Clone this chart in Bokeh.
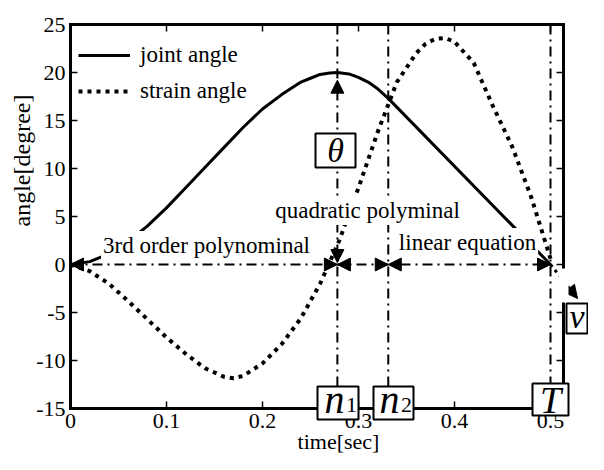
from bokeh.plotting import figure
from bokeh.models import (FixedTicker, Label, Arrow, NormalHead, BoxAnnotation,
                          Legend, LegendItem, Range1d, LinearAxis)
from bokeh.embed import file_html
from bokeh.resources import INLINE
import math

# ---------------- data ----------------
t_joint = [0, 0.02, 0.04, 0.06, 0.08, 0.10, 0.12, 0.14, 0.16, 0.18, 0.20,
           0.22, 0.24, 0.25, 0.26, 0.27, 0.278, 0.29, 0.30, 0.31, 0.32, 0.331, 0.50]
joint_angle = [0, 0.3, 1.1, 2.4, 4.0, 5.9, 8.0, 10.1, 12.2, 14.3, 16.2,
               17.7, 19.0, 19.4, 19.8, 19.95, 20.0, 19.85, 19.5, 19.0, 18.3, 17.3, 0]

t_strain = [0, 0.02, 0.04, 0.06, 0.08, 0.10, 0.12, 0.14, 0.16, 0.17, 0.18, 0.20,
            0.22, 0.24, 0.26, 0.28, 0.30, 0.32, 0.34, 0.36, 0.37, 0.38, 0.39,
            0.40, 0.42, 0.44, 0.46, 0.48, 0.50]
strain_angle = [0, -0.7, -2.0, -3.8, -5.7, -7.6, -9.3, -10.8, -11.7, -11.85,
                -11.6, -10.3, -8.3, -5.6, -2.0, 2.5, 8.0, 13.8, 19.0, 22.0,
                23.0, 23.5, 23.6, 23.2, 21.0, 16.5, 12.3, 7.0, 0.6]

x_ticks = [0, 0.1, 0.2, 0.3, 0.4, 0.5]
x_tick_labels = ["0", "0.1", "0.2", "0.3", "0.4", "0.5"]
y_ticks = [-15, -10, -5, 0, 5, 10, 15, 20, 25]
y_tick_labels = ["-15", "-10", "-5", "0", "5", "10", "15", "20", "25"]

n1, n2, T_end = 0.278, 0.331, 0.5
theta = 20
X0, X1, Y0, Y1 = 0, 0.5135, -15, 25      # axes box

# ---------------- layout: frame fills the canvas ----------------
W, H = 588, 454
PX_LEFT, PX_PER_X = 70, 960.0            # pixel of x=0, pixels per unit x
PY_TOP, PY_PER_Y = 24, 9.6               # pixel of y=25, pixels per unit y


def dx(px):
    return (px - PX_LEFT) / PX_PER_X


def dy(py):
    return Y1 - (py - PY_TOP) / PY_PER_Y


FONT = "Liberation Serif"

p = figure(width=W, height=H, x_range=Range1d(dx(0), dx(W)),
           y_range=Range1d(dy(H), dy(0)),
           output_backend="svg", toolbar_location=None,
           x_axis_location=None, y_axis_location=None,
           min_border=0, min_border_left=0, min_border_right=0,
           min_border_top=0, min_border_bottom=0)
p.outline_line_color = None
p.background_fill_color = "white"
p.border_fill_color = "white"
p.grid.visible = False
for g in p.grid:
    g.grid_line_color = None


def make_axis(loc, fixed, bounds, ticks, labels, show):
    ax = LinearAxis(fixed_location=fixed, bounds=bounds)
    ax.ticker = FixedTicker(ticks=ticks)
    ax.axis_line_width = 3
    ax.axis_line_color = "black"
    ax.axis_line_cap = "square"
    ax.major_tick_in = 7
    ax.major_tick_out = 0
    ax.major_tick_line_width = 1.5
    ax.major_tick_line_color = "black"
    ax.minor_tick_line_color = None
    ax.major_label_text_font = FONT
    ax.major_label_text_color = "black"
    if show:
        ax.major_label_text_font_size = "22px"
        ax.major_label_standoff = 5
        ax.major_label_overrides = {k: s for k, s in zip(ticks, labels)}
    else:
        ax.major_label_text_font_size = "0px"
        ax.major_label_text_alpha = 0
        ax.major_label_standoff = 0
    p.add_layout(ax, loc)


# ---------------- reference lines ----------------
DASHDOT = "10 5 2 5"
p.segment(x0=[n1, n2, T_end], y0=Y0, x1=[n1, n2, T_end], y1=Y1,
          line_color="black", line_width=2, line_dash=DASHDOT)
p.line([0, T_end], [0, 0], line_color="black", line_width=2, line_dash=DASHDOT)

# ---------------- curves ----------------
r_joint = p.line(t_joint, joint_angle, line_color="black", line_width=3,
                 line_join="round")
r_strain = p.line(t_strain, strain_angle, line_color="black", line_width=4,
                  line_dash="4 5")

make_axis("below", Y0, (X0, X1), x_ticks, x_tick_labels, True)
make_axis("above", Y1, (X0, X1), x_ticks, x_tick_labels, False)
make_axis("left", X0, (Y0, Y1), y_ticks, y_tick_labels, True)
make_axis("right", X1, (Y0, Y1), y_ticks, y_tick_labels, False)

legend = Legend(items=[LegendItem(label="joint angle", renderers=[r_joint]),
                       LegendItem(label="strain angle", renderers=[r_strain])],
                location=(78, 347), margin=0, padding=0, spacing=4,
                glyph_height=32, label_height=32, glyph_width=52,
                label_standoff=10, label_text_font=FONT,
                label_text_font_size="23px", label_text_color="black",
                border_line_color=None, background_fill_alpha=0)
p.add_layout(legend)


# ---------------- text annotations (white background) ----------------
def text_label(x, y, txt):
    p.add_layout(Label(x=x, y=y, text=txt, text_font=FONT, text_font_size="23px",
                       text_color="black", text_align="center",
                       text_baseline="middle", background_fill_color="white",
                       background_fill_alpha=1, padding=2))


text_label(dx(206), dy(245), "3rd order polynominal")
text_label(dx(367), dy(210), "quadratic polyminal")
text_label(dx(467), dy(242), "linear equation")


# ---------------- arrows ----------------
def head():
    return NormalHead(size=13, fill_color="black", line_color="black", line_width=1)


for xs, xe in [(0, n1), (n1, n2), (n2, T_end)]:
    p.add_layout(Arrow(start=head(), end=head(), x_start=xs, y_start=0,
                       x_end=xe, y_end=0, line_color=None))
p.add_layout(Arrow(start=head(), end=head(), x_start=n1, y_start=0.2,
                   x_end=n1, y_end=theta - 0.8, line_color=None))
p.add_layout(Arrow(end=head(), x_start=T_end, y_start=0, x_end=dx(577),
                   y_end=dy(298), line_color="black", line_width=3, line_dash="3 4"))

# gap in the right border
p.add_layout(BoxAnnotation(left=dx(558), right=dx(568), top=dy(268), bottom=dy(302),
                           fill_color="white", fill_alpha=1, line_color=None))


# ---------------- boxed symbols ----------------
def box(l, r, t, b):
    p.add_layout(BoxAnnotation(left=dx(l), right=dx(r), top=dy(t), bottom=dy(b),
                               fill_color="white", fill_alpha=1,
                               line_color="black", line_alpha=1, line_width=2))


def sym(px, py, txt, size, italic=True):
    p.add_layout(Label(x=dx(px), y=dy(py), text=txt, text_font=FONT,
                       text_font_size=size,
                       text_font_style="italic" if italic else "normal",
                       text_color="black", text_align="center",
                       text_baseline="middle"))


box(317, 358, 386, 419)
sym(334, 399, "n", "40px")
sym(351, 404.5, "1", "22px", italic=False)

box(373, 413, 386, 419)
sym(389, 399, "n", "40px")
sym(406, 404.5, "2", "22px", italic=False)

box(532, 568, 383, 415)
sym(550, 399.4, "T", "38px")

box(315, 355, 133, 167)
sym(335, 150, "θ", "34px")

box(566, 587, 303, 333)
sym(576.5, 316.4, "v", "34px")

# ---------------- axis titles ----------------
p.add_layout(Label(x=dx(21.5), y=dy(160), text="angle[degree]", angle=math.pi / 2,
                   text_font=FONT, text_font_size="24px", text_color="black",
                   text_align="center", text_baseline="middle"))
p.add_layout(Label(x=dx(338), y=dy(441), text="time[sec]", text_font=FONT,
                   text_font_size="22px", text_color="black",
                   text_align="center", text_baseline="middle"))

open("out.html", "w").write(file_html(p, INLINE))
